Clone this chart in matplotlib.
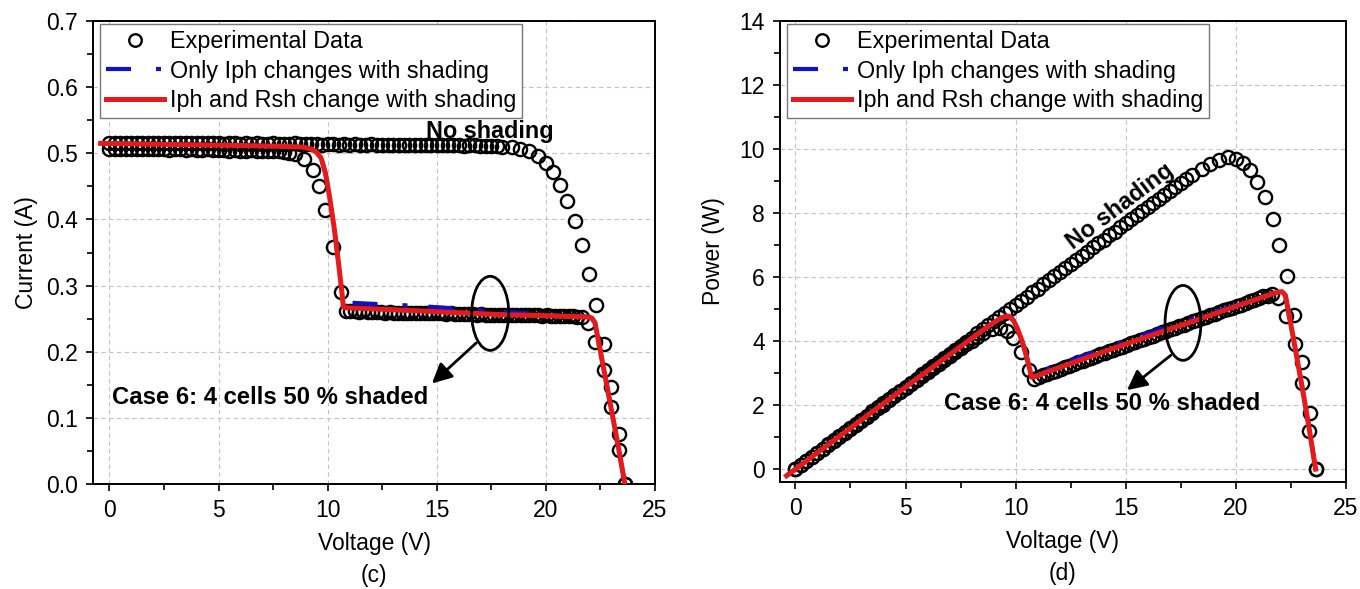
import numpy as np
import matplotlib
matplotlib.use("Agg")
import matplotlib.pyplot as plt
from matplotlib.patches import Ellipse
from matplotlib.ticker import MultipleLocator, FormatStrFormatter
from matplotlib.lines import Line2D

plt.rcParams['font.family'] = ['Liberation Sans', 'DejaVu Sans']
plt.rcParams['font.size'] = 16.5

# ---------------- Experimental data: no shading ----------------
V_ns = [0.00, 0.25, 0.50, 0.75, 1.00, 1.25, 1.50, 1.75, 2.00, 2.25,
        2.50, 2.75, 3.00, 3.25, 3.50, 3.75, 4.00, 4.25, 4.50, 4.75,
        5.00, 5.25, 5.50, 5.75, 6.00, 6.25, 6.50, 6.75, 7.00, 7.25,
        7.50, 7.75, 8.00, 8.25, 8.50, 8.75, 9.00, 9.25, 9.50, 9.75,
        10.00, 10.25, 10.50, 10.75, 11.00, 11.25, 11.50, 11.75, 12.00, 12.25,
        12.50, 12.75, 13.00, 13.25, 13.50, 13.75, 14.00, 14.25, 14.50, 14.75,
        15.00, 15.25, 15.50, 15.75, 16.00, 16.25, 16.50, 16.75, 17.00, 17.25,
        17.50, 17.75, 18.00,
        18.44, 18.83, 19.22, 19.64, 20.00, 20.31, 20.66, 20.98, 21.33, 21.67,
        21.98, 22.31, 22.66, 23.00, 23.36, 23.62]
I_ns = [0.516, 0.516, 0.515, 0.516, 0.516, 0.515, 0.516, 0.515, 0.515, 0.516,
        0.515, 0.515, 0.516, 0.515, 0.515, 0.515, 0.516, 0.515, 0.515, 0.515,
        0.515, 0.514, 0.515, 0.515, 0.514, 0.515, 0.514, 0.515, 0.514, 0.514,
        0.515, 0.514, 0.514, 0.514, 0.515, 0.514, 0.514, 0.514, 0.514, 0.513,
        0.514, 0.514, 0.513, 0.514, 0.513, 0.514, 0.513, 0.513, 0.514, 0.513,
        0.513, 0.513, 0.513, 0.512, 0.513, 0.513, 0.512, 0.513, 0.512, 0.512,
        0.513, 0.512, 0.512, 0.512, 0.512, 0.511, 0.512, 0.512, 0.511, 0.511,
        0.511, 0.511, 0.510,
        0.509, 0.507, 0.503, 0.496, 0.485, 0.471, 0.452, 0.428, 0.398, 0.361,
        0.318, 0.270, 0.212, 0.146, 0.075, 0.000]

# ---------------- Experimental data: case 6 (4 cells 50 % shaded) ----------------
V_sh = [0.00, 0.25, 0.50, 0.75, 1.00, 1.25, 1.50, 1.75, 2.00, 2.25,
        2.50, 2.75, 3.00, 3.25, 3.50, 3.75, 4.00, 4.25, 4.50, 4.75,
        5.00, 5.25, 5.50, 5.75, 6.00, 6.25, 6.50, 6.75, 7.00, 7.25,
        7.50, 7.75, 8.00, 8.25, 8.50,
        8.93, 9.31, 9.62, 9.89, 10.23, 10.61,
        10.84, 11.04, 11.24, 11.44, 11.64, 11.84, 12.04, 12.24, 12.44, 12.64,
        12.84, 13.04, 13.24, 13.44, 13.64, 13.84, 14.04, 14.24, 14.44, 14.64,
        14.84, 15.04, 15.24, 15.44, 15.64, 15.84, 16.04, 16.24, 16.44, 16.64,
        16.84, 17.04, 17.24, 17.44, 17.64, 17.84, 18.04, 18.24, 18.44, 18.64,
        18.84, 19.04, 19.24, 19.44, 19.64, 19.84, 20.04, 20.24, 20.44, 20.64,
        20.84, 21.04, 21.24, 21.44, 21.64,
        21.92, 22.27, 22.67, 22.98, 23.34, 23.64]
I_sh = [0.507, 0.507, 0.506, 0.507, 0.506, 0.506, 0.507, 0.506, 0.506, 0.506,
        0.506, 0.505, 0.506, 0.506, 0.505, 0.506, 0.505, 0.505, 0.506, 0.505,
        0.505, 0.505, 0.504, 0.505, 0.504, 0.504, 0.505, 0.504, 0.504, 0.503,
        0.503, 0.503, 0.502, 0.501, 0.499,
        0.491, 0.475, 0.450, 0.414, 0.359, 0.291,
        0.261, 0.261, 0.261, 0.260, 0.261, 0.260, 0.260, 0.260, 0.260, 0.259,
        0.260, 0.259, 0.259, 0.259, 0.259, 0.259, 0.258, 0.259, 0.258, 0.258,
        0.258, 0.258, 0.258, 0.257, 0.258, 0.257, 0.257, 0.257, 0.257, 0.257,
        0.256, 0.257, 0.256, 0.256, 0.256, 0.256, 0.256, 0.255, 0.256, 0.255,
        0.255, 0.255, 0.255, 0.255, 0.255, 0.254, 0.255, 0.254, 0.254, 0.254,
        0.254, 0.254, 0.254, 0.253, 0.253,
        0.244, 0.215, 0.173, 0.117, 0.051, 0.000]

# ---------------- Model curves ----------------
V_fit = [-0.40, 0.00, 2.00, 4.00, 6.00, 8.00, 8.80, 9.20, 9.45, 9.70,
         9.90, 10.08, 10.31, 10.50, 10.66, 10.72, 10.80, 12.00, 14.00, 16.00,
         18.00, 20.00, 21.90, 22.10, 22.25, 22.60, 23.00, 23.30, 23.62]
I_only_iph = [0.515, 0.5148, 0.5138, 0.5128, 0.5118, 0.5105, 0.5095, 0.507, 0.503, 0.493,
              0.470, 0.436, 0.385, 0.334, 0.290, 0.276, 0.2745, 0.2725, 0.2695, 0.265,
              0.2605, 0.2560, 0.2528, 0.251, 0.244, 0.183, 0.113, 0.060, 0.000]
I_iph_rsh = [0.515, 0.5148, 0.5138, 0.5128, 0.5118, 0.5105, 0.5095, 0.507, 0.503, 0.493,
             0.470, 0.436, 0.385, 0.334, 0.288, 0.268, 0.2665, 0.265, 0.262, 0.259,
             0.256, 0.2545, 0.2525, 0.251, 0.244, 0.183, 0.113, 0.060, 0.000]

labels = ['Experimental Data', 'Only Iph changes with shading', 'Iph and Rsh change with shading']

# Power = V * I (same measurements)
P_ns = np.array(V_ns) * np.array(I_ns)
P_sh = np.array(V_sh) * np.array(I_sh)
P_only_iph = np.array(V_fit) * np.array(I_only_iph)
P_iph_rsh = np.array(V_fit) * np.array(I_iph_rsh)

fig = plt.figure(figsize=(13.6, 5.89), dpi=100)
ax1 = fig.add_axes([0.0684, 0.1783, 0.4132, 0.7860])
ax2 = fig.add_axes([0.5735, 0.1817, 0.4162, 0.7826])

mk = dict(marker='o', ms=9.5, mfc='none', mec='black', mew=1.7, ls='none', zorder=3)
blue_ls = (0, (6, 6, 1.2, 5))
red_c = '#e41a1c'
blue_c = '#1010d0'


def style(ax):
    ax.grid(True, which='major', color='#c4c4c4', ls=(0, (4, 3)), lw=0.8, zorder=0)
    ax.tick_params(which='major', direction='out', length=5, width=1.2, top=False, right=False, pad=6)
    ax.tick_params(which='minor', direction='out', length=4, width=1.2, top=False, right=False)
    for s in ax.spines.values():
        s.set_linewidth(1.4)
        s.set_color('black')
    ax.xaxis.set_major_locator(MultipleLocator(5))
    ax.xaxis.set_minor_locator(MultipleLocator(2.5))


# ----- left (c) -----
ax1.plot(V_ns, I_ns, **mk)
ax1.plot(V_sh, I_sh, **mk)
ax1.plot(V_fit, I_only_iph, color=blue_c, lw=3, ls=blue_ls, zorder=4)
ax1.plot(V_fit, I_iph_rsh, color=red_c, lw=3.6, zorder=5)
ax1.set_xlim(-0.75, 25)
ax1.set_ylim(0, 0.7)
ax1.yaxis.set_major_locator(MultipleLocator(0.1))
ax1.yaxis.set_minor_locator(MultipleLocator(0.05))
ax1.yaxis.set_major_formatter(FormatStrFormatter('%.1f'))
style(ax1)
ax1.set_ylabel('Current (A)', labelpad=6)
ax1.set_xlabel('Voltage (V)', labelpad=7)
ax1.text(0.5, -0.198, '(c)', transform=ax1.transAxes, ha='center', va='center')
ax1.text(17.45, 0.533, 'No shading', ha='center', va='center', fontweight='bold', fontsize=16.8)
ax1.text(0.12, 0.131, 'Case 6: 4 cells 50 % shaded', ha='left', va='center', fontweight='bold', fontsize=17.2)
ax1.add_patch(Ellipse((17.45, 0.258), 1.7, 0.112, fill=False, lw=2, color='black', zorder=6))
ax1.annotate('', xy=(14.78, 0.152), xytext=(16.8, 0.213),
             arrowprops=dict(arrowstyle='-|>', lw=2, color='black', mutation_scale=30, shrinkA=0, shrinkB=0),
             zorder=6)

# ----- right (d) -----
ax2.plot(V_ns, P_ns, **mk)
ax2.plot(V_sh, P_sh, **mk)
ax2.plot(V_fit, P_only_iph, color=blue_c, lw=3, ls=blue_ls, zorder=4)
ax2.plot(V_fit, P_iph_rsh, color=red_c, lw=3.6, zorder=5)
ax2.set_xlim(-0.7, 25)
ax2.set_ylim(-0.4, 14)
ax2.yaxis.set_major_locator(MultipleLocator(2))
ax2.yaxis.set_minor_locator(MultipleLocator(1))
style(ax2)
ax2.set_ylabel('Power (W)', labelpad=10)
ax2.set_xlabel('Voltage (V)', labelpad=7)
ax2.text(0.5, -0.198, '(d)', transform=ax2.transAxes, ha='center', va='center')
ax2.text(14.74, 8.21, 'No shading', ha='center', va='center', fontweight='bold', fontsize=16.8,
         rotation=37, rotation_mode='anchor')
ax2.text(6.73, 2.06, 'Case 6: 4 cells 50 % shaded', ha='left', va='center', fontweight='bold', fontsize=17.2)
ax2.add_patch(Ellipse((17.6, 4.57), 1.63, 2.34, fill=False, lw=2, color='black', zorder=6))
ax2.annotate('', xy=(15.06, 2.47), xytext=(17.05, 3.56),
             arrowprops=dict(arrowstyle='-|>', lw=2, color='black', mutation_scale=30, shrinkA=0, shrinkB=0),
             zorder=6)

handles = [Line2D([], [], marker='o', ms=9, mfc='none', mec='black', mew=1.7, ls='none'),
           Line2D([], [], color=blue_c, lw=3, ls=blue_ls),
           Line2D([], [], color=red_c, lw=3.6)]
for ax in (ax1, ax2):
    leg = ax.legend(handles, labels, loc='upper left', bbox_to_anchor=(0.012, 0.993),
                    borderaxespad=0, frameon=True, fancybox=False, edgecolor='#777777',
                    framealpha=1, handlelength=2.5, handletextpad=0.25, labelspacing=0.28,
                    borderpad=0.25, fontsize=16.8)
    leg.get_frame().set_linewidth(1.0)
    leg.set_zorder(10)

fig.savefig('out.png', dpi=100)
